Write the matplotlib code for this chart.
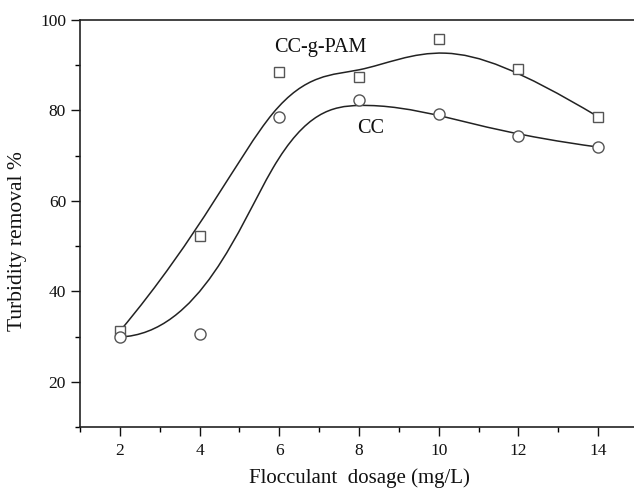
"""
Turbidity removal vs flocculant dosage, CC vs CC-g-PAM.
Curves are Origin-style clamped cubic B-splines using the points as control points.
"""
import numpy as np
import matplotlib
matplotlib.use("Agg")
import matplotlib.pyplot as plt
from matplotlib.path import Path
from matplotlib.patches import PathPatch
from matplotlib.ticker import MultipleLocator

dosage = [2, 4, 6, 8, 10, 12, 14]
removal_ccgpam = [31.2, 52.2, 88.6, 87.4, 95.7, 89.1, 78.6]
removal_cc = [29.9, 30.6, 78.5, 82.2, 79.3, 74.3, 71.9]

x_ticks = [2, 4, 6, 8, 10, 12, 14]
y_ticks = [20, 40, 60, 80, 100]

plt.rcParams["font.family"] = ["Liberation Serif", "DejaVu Serif"]


def _bspline_path(xs, ys, degree=3):
    """Clamped uniform cubic B-spline -> Bezier path (Boehm knot insertion)."""
    pts = [np.array([x, y], dtype=float) for x, y in zip(xs, ys)]
    n_seg = len(pts) - degree
    knots = [0.0] * (degree + 1) + [float(i) for i in range(1, n_seg)] + [float(n_seg)] * (degree + 1)
    for u in range(1, n_seg):
        for _ in range(degree - 1):
            k = max(i for i in range(len(knots) - 1) if knots[i] <= u < knots[i + 1])
            new = []
            for i in range(len(pts) + 1):
                if i <= k - degree:
                    new.append(pts[i])
                elif i <= k:
                    a = (u - knots[i]) / (knots[i + degree] - knots[i])
                    new.append((1 - a) * pts[i - 1] + a * pts[i])
                else:
                    new.append(pts[i - 1])
            pts = new
            knots = knots[:k + 1] + [float(u)] + knots[k + 1:]
    verts = [tuple(p) for p in pts]
    codes = [Path.MOVETO] + [Path.CURVE4] * (len(verts) - 1)
    return Path(verts, codes)


fig = plt.figure(figsize=(6.34, 4.92), dpi=100)
ax = fig.add_axes([80 / 634, 1 - 427 / 492, 558 / 634, 407 / 492])

for ys in (removal_ccgpam, removal_cc):
    ax.add_patch(PathPatch(_bspline_path(dosage, ys), facecolor="none",
                           edgecolor="#222222", lw=1.1, zorder=2))

ax.plot(dosage, removal_ccgpam, ls="none", marker="s", ms=7, mfc="white",
        mec="#555555", mew=1.0, zorder=3)
ax.plot(dosage, removal_cc, ls="none", marker="o", ms=8, mfc="white",
        mec="#555555", mew=1.0, zorder=3)

ax.text(5.88, 94.0, "CC-g-PAM", fontsize=14.6, va="center", ha="left", color="#111111")
ax.text(7.95, 76.1, "CC", fontsize=14.6, va="center", ha="left", color="#111111")

ax.set_xlim(1, 15)
ax.set_ylim(10, 100)
ax.set_xticks(x_ticks)
ax.set_yticks(y_ticks)
ax.xaxis.set_minor_locator(MultipleLocator(1))
ax.yaxis.set_minor_locator(MultipleLocator(10))
ax.tick_params(which="major", direction="out", length=6.5, width=1.0, labelsize=12.5,
               colors="#111111", top=False, right=False)
ax.tick_params(which="minor", direction="out", length=3.5, width=1.0, top=False, right=False)
ax.tick_params(axis="x", which="major", pad=5)

for side in ("left", "bottom", "top"):
    ax.spines[side].set_linewidth(1.2)
    ax.spines[side].set_color("#222222")
ax.spines["right"].set_visible(False)

fig.text(359 / 634, 1 - 478 / 492, "Flocculant  dosage (mg/L)", fontsize=15,
         ha="center", va="center", color="#111111")
fig.text(18 / 634, 1 - 241 / 492, "Turbidity removal %", fontsize=15.5, rotation=90,
         ha="center", va="center", color="#111111")

fig.savefig("out.png", dpi=100)
